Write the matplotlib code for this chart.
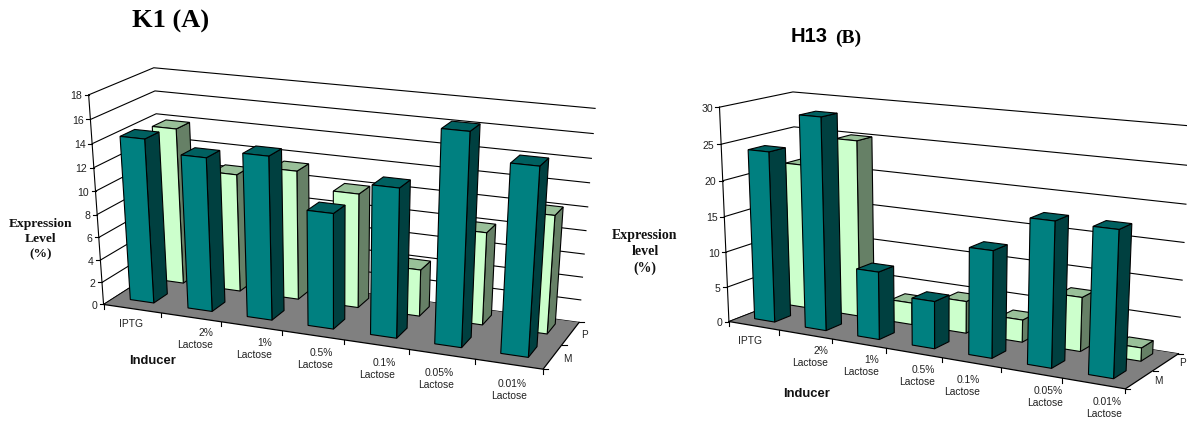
import numpy as np
import matplotlib
matplotlib.use('Agg')
import matplotlib.pyplot as plt
from matplotlib.patches import Polygon

categories=['IPTG','2%\nLactose','1%\nLactose','0.5%\nLactose','0.1%\nLactose','0.05%\nLactose','0.01%\nLactose']
k1_m=[14.3,13.3,14.0,9.9,12.6,17.6,15.5]
k1_p=[13.85,10.45,11.35,10.0,4.1,8.0,10.1]
h13_m=[24.0,29.4,9.4,6.5,14.4,19.2,19.1]
h13_p=[20.8,25.0,3.1,4.5,3.1,7.4,1.8]
k1_ticks=[0,2,4,6,8,10,12,14,16,18]
h13_ticks=[0,5,10,15,20,25,30]

SANS='Liberation Sans'
SERIF='Liberation Serif'
colorM=['#008080','#004040','#006060']
colorP=['#CCFFCC','#668066','#99C099']

# corners of the chart box, (x,depth,z) in 0..1 -> pixel
k1_box=[((0,0,0),(103.5,302.3)),((0,0,1),(88.5,95.7)),((0,1,1),(154,66.7)),((0,1,0),(164,268)),
        ((1,1,0),(579,320.7)),((1,1,1),(595,108.7)),((1,0,0),(543.3,370.7))]
h13_box=[((0,0,0),(729.3,320)),((0,0,1),(719,107.7)),((0,1,1),(793.5,91.3)),((0,1,0),(798.4,296)),
         ((1,1,0),(1178.5,352.5)),((1,1,1),(1189.7,126)),((1,0,0),(1125.5,390))]


def fit_camera(box):
  A=[]
  b=[]
  for (X,Y,Z),(u,v) in box:
    A.append([X,Y,Z,1,0,0,0,0,-u*X,-u*Y,-u*Z])
    A.append([0,0,0,0,X,Y,Z,1,-v*X,-v*Y,-v*Z])
    b+=[u,v]
  p=np.linalg.lstsq(np.array(A,float),np.array(b,float),rcond=None)[0]
  return np.append(p,1).reshape(3,4)


def draw_chart(ax,box,m,p,ticks,labels,label_right,label_y,lab_m,lab_p,barw=0.41,bard=0.45,shift=-0.02):
  cam=fit_camera(box)
  zmax=ticks[-1]
  n=len(m)

  def pr(x,d,z):
    h=cam@np.array([x/n,d/2,z/zmax,1.0])
    return h[0]/h[2],h[1]/h[2]

  # floor
  ax.add_patch(Polygon([pr(0,0,0),pr(n,0,0),pr(n,2,0),pr(0,2,0)],fc='#808080',ec='none',zorder=1))
  # walls
  for t in ticks:
    ax.plot(*zip(pr(0,0,t),pr(0,2,t),pr(n,2,t)),color='k',lw=0.8,zorder=0.5)
    xt,yt=pr(0,0,t)
    ax.plot([xt-4,xt],[yt,yt],color='k',lw=0.8,zorder=2)
    ax.text(xt-6.5,yt+1.5,str(t),ha='right',va='center',fontsize=7.6,family=SANS,color='#222222')
  ax.plot(*zip(pr(0,0,0),pr(0,0,zmax)),color='k',lw=0.8,zorder=2)
  ax.plot(*zip(pr(0,0,0),pr(n,0,0),pr(n,2,0)),color='k',lw=0.9,zorder=2)
  ax.plot(*zip(pr(0,0,0),pr(0,2,0)),color='k',lw=0.6,zorder=2)
  # category and series ticks
  for i in range(0,n+1):
    xt,yt=pr(i,0,0)
    ax.plot([xt,xt],[yt,yt+4.5],color='k',lw=0.8,zorder=2)
  for d in [0,1,2]:
    xt,yt=pr(n,d,0)
    ax.plot([xt,xt+5],[yt,yt],color='k',lw=0.8,zorder=2)
  for i,txt in enumerate(labels):
    ax.text(label_right[i],label_y[i],txt,ha='right',va='top',multialignment='right',fontsize=7.4,
            family=SANS,linespacing=1.25,color='#222222')
  ax.text(lab_m[0],lab_m[1],'M',ha='center',va='center',fontsize=7.2,family=SANS,color='#222222')
  ax.text(lab_p[0],lab_p[1],'P',ha='center',va='center',fontsize=7.2,family=SANS,color='#222222')

  # bars, back row first, then left to right
  zo=3
  for d0,vals,col in [(1,p,colorP),(0,m,colorM)]:
    for i,v in enumerate(vals):
      x0=i+(1-barw)/2+shift
      x1=x0+barw
      y0=d0+0.35
      y1=y0+bard
      ax.add_patch(Polygon([pr(x1,y0,0),pr(x1,y1,0),pr(x1,y1,v),pr(x1,y0,v)],fc=col[1],ec='k',lw=0.8,zorder=zo))
      ax.add_patch(Polygon([pr(x0,y0,v),pr(x1,y0,v),pr(x1,y1,v),pr(x0,y1,v)],fc=col[2],ec='k',lw=0.8,zorder=zo))
      ax.add_patch(Polygon([pr(x0,y0,0),pr(x1,y0,0),pr(x1,y0,v),pr(x0,y0,v)],fc=col[0],ec='k',lw=0.8,zorder=zo))
      zo+=1


fig=plt.figure(figsize=(11.87,4.23),dpi=100)
ax=fig.add_axes([0,0,1,1])
ax.set_xlim(0,1187)
ax.set_ylim(423,0)
ax.axis('off')

draw_chart(ax,k1_box,k1_m,k1_p,k1_ticks,categories,
           [142.5,213,272,332.5,395.5,454,527],[319,328,338,348,358,368,379],(567,359),(584,335))
draw_chart(ax,h13_box,h13_m,h13_p,h13_ticks,categories,
           [762,828,879,935,980,1063,1122],[336,346,355,365,375,386,397],(1158,381),(1183,363),barw=0.40,shift=-0.04)

ax.text(171,21,'K1 (A)',ha='center',va='center',fontsize=19,family=SERIF,weight='bold',color='k')
ax.text(791,37,'H13',ha='left',va='center',fontsize=14.5,family=SANS,weight='bold',color='k')
ax.text(835,38,'(B)',ha='left',va='center',fontsize=14,family=SERIF,weight='bold',color='k')
ax.text(41,239,'Expression\nLevel\n(%)',ha='center',va='center',fontsize=9.7,family=SERIF,weight='bold',linespacing=1.35,color='#111111')
ax.text(645,252,'Expression\nlevel\n(%)',ha='center',va='center',fontsize=10,family=SERIF,weight='bold',linespacing=1.35,color='#111111')
ax.text(153,361,'Inducer',ha='center',va='center',fontsize=9.4,family=SANS,weight='bold',color='#111111')
ax.text(807,394,'Inducer',ha='center',va='center',fontsize=9.4,family=SANS,weight='bold',color='#111111')

fig.savefig('out.png',dpi=100)
